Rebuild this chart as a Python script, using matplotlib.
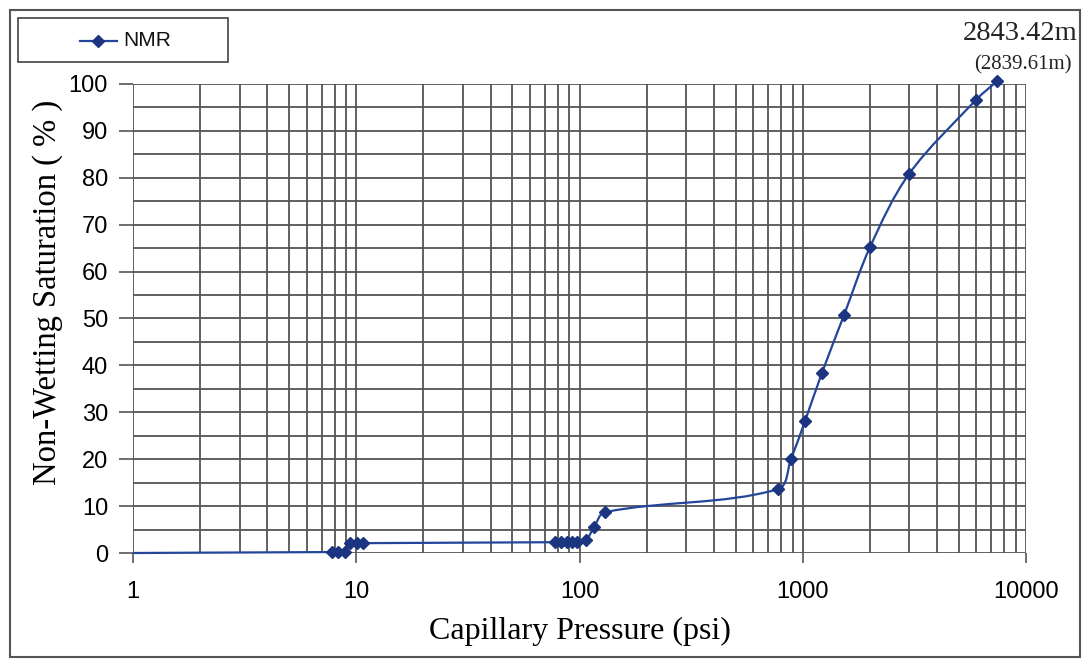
import numpy as np
import matplotlib
matplotlib.use("Agg")
import matplotlib.pyplot as plt
from matplotlib.path import Path
from matplotlib.patches import PathPatch, Rectangle
from matplotlib.lines import Line2D

# Mercury-equivalent capillary pressure curve derived from NMR
pressure_psi = [1.0, 7.79, 8.28, 8.9, 9.38, 10.07, 10.7,
                77.6, 82.6, 87.9, 92.5, 97.5, 107, 116, 130,
                774, 885, 1023, 1219, 1530, 2000, 2992, 5970, 7410]
saturation_pct = [0.0, 0.2, 0.2, 0.2, 2.1, 2.1, 2.1,
                  2.3, 2.3, 2.3, 2.3, 2.3, 2.8, 5.5, 8.7,
                  13.6, 20.0, 28.1, 38.4, 50.7, 65.2, 80.8, 96.6, 100.6]
series_name = "NMR"
depth_label = "2843.42m"
depth_sub_label = "(2839.61m)"
x_ticks = [1, 10, 100, 1000, 10000]
y_ticks = list(range(0, 101, 10))

line_color = "#23459a"
marker_color = "#1c3580"
grid_color = "#555555"

W, H = 1089, 661
fig = plt.figure(figsize=(W / 100, H / 100), dpi=100)
ax = fig.add_axes([133 / W, 1 - 553 / H, (1026 - 133) / W, (553 - 84) / H])

ax.set_xscale("log")
ax.set_xlim(1, 10000)
ax.set_ylim(0, 100)

# grid: every integer multiple within each decade, and every 5 % on y
for dec in [1, 10, 100, 1000]:
    for mult in range(1, 10):
        ax.axvline(dec * mult, color=grid_color, lw=1.3, zorder=1)
ax.axvline(10000, color=grid_color, lw=1.3, zorder=1)
for yv in range(0, 101, 5):
    ax.axhline(yv, color=grid_color, lw=1.3, zorder=1)

for s in ax.spines.values():
    s.set_visible(False)

ax.set_xticks(x_ticks)
ax.set_xticklabels([str(v) for v in x_ticks])
ax.xaxis.set_minor_locator(matplotlib.ticker.NullLocator())
ax.set_yticks(y_ticks)
ax.tick_params(axis="x", length=7, width=1.2, color=grid_color, pad=13,
               labelsize=17, direction="out")
ax.tick_params(axis="y", length=10, width=1.2, color=grid_color, pad=8,
               labelsize=17, direction="out")
for lab in ax.get_xticklabels() + ax.get_yticklabels():
    lab.set_fontfamily("Liberation Sans")

ax.set_xlabel("Capillary Pressure (psi)", family="Liberation Serif",
              fontsize=23, labelpad=10)
ax.set_ylabel("Non-Wetting Saturation ( % )", family="Liberation Serif",
              fontsize=23.5)
ax.yaxis.set_label_coords(-0.078, 0.556)

# smoothed connecting line: tangent at each point follows its two
# neighbours (in screen-proportional units), handles are 1/3 of the chord
sx, sy = 223.25, 4.69          # pixels per decade / per percent
px = np.log10(np.asarray(pressure_psi, dtype=float)) * sx
py = np.asarray(saturation_pct, dtype=float) * sy
P = np.column_stack([px, py])
n = len(P)
tang = np.zeros_like(P)
for k in range(n):
    a = P[max(k - 1, 0)]
    b = P[min(k + 1, n - 1)]
    d = b - a
    tang[k] = d / np.hypot(*d)

verts = [P[0]]
codes = [Path.MOVETO]
for k in range(n - 1):
    L = np.hypot(*(P[k + 1] - P[k])) / 3.0
    verts.append(P[k] + tang[k] * L)
    verts.append(P[k + 1] - tang[k + 1] * L)
    verts.append(P[k + 1])
    codes += [Path.CURVE4] * 3
verts = np.array(verts)
data_verts = np.column_stack([10 ** (verts[:, 0] / sx), verts[:, 1] / sy])
curve = PathPatch(Path(data_verts, codes), facecolor="none",
                  edgecolor=line_color, lw=1.6, zorder=3, clip_on=False)
ax.add_patch(curve)

ax.plot(pressure_psi[1:], saturation_pct[1:], linestyle="none", marker="D",
        markersize=6, color=marker_color, zorder=4, clip_on=False)

# depth annotation
fig.text(1077 / W, 1 - 33 / H, depth_label, family="Liberation Serif",
         fontsize=20.5, ha="right", va="center", color="#222222")
fig.text(1072 / W, 1 - 65 / H, depth_sub_label, family="Liberation Serif",
         fontsize=15, ha="right", va="center", color="#222222")

# legend box
fig.add_artist(Rectangle((18 / W, 1 - 62 / H), 210 / W, 44 / H,
                         transform=fig.transFigure, fill=False,
                         edgecolor="#444444", lw=1.2))
fig.add_artist(Line2D([80 / W, 117 / W], [1 - 41 / H, 1 - 41 / H],
                      transform=fig.transFigure, color=line_color, lw=1.6))
fig.add_artist(Line2D([98.5 / W], [1 - 41 / H], transform=fig.transFigure,
                      marker="D", markersize=6, color=marker_color))
fig.text(123 / W, 1 - 41 / H, series_name, family="Liberation Sans",
         fontsize=15, ha="left", va="center", color="#111111")

# outer frame
fig.add_artist(Rectangle((10 / W, 1 - 657 / H), 1070 / W, 647 / H,
                         transform=fig.transFigure, fill=False,
                         edgecolor="#555555", lw=1.5))

fig.savefig("out.png", dpi=100, facecolor="white")
